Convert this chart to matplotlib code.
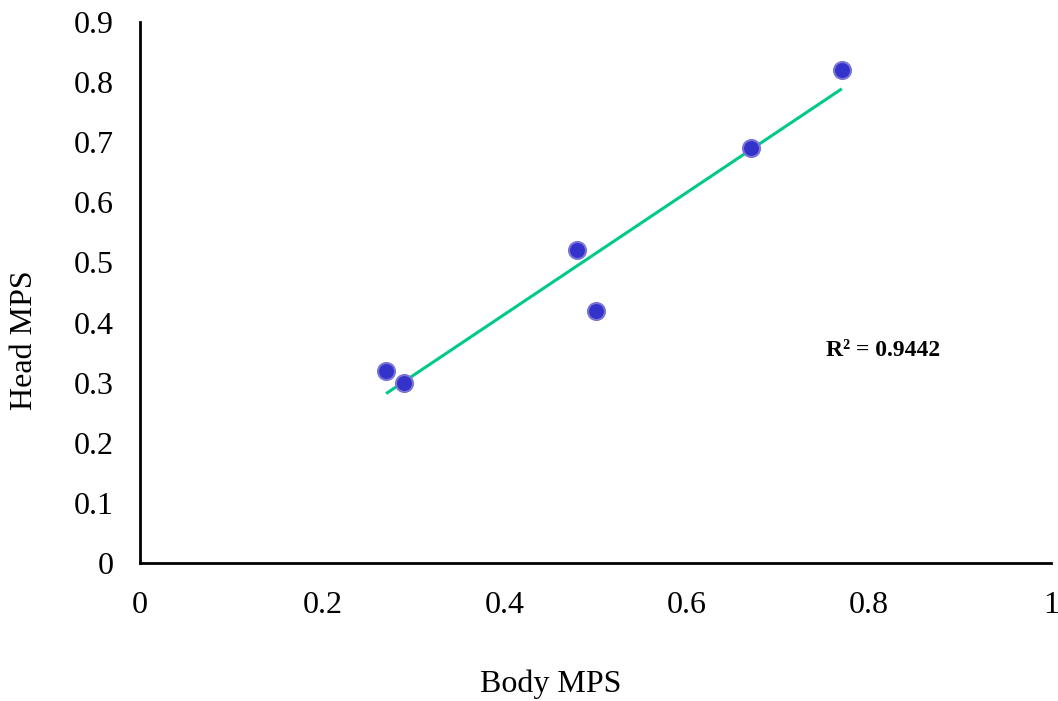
import numpy as np
import matplotlib
matplotlib.use("Agg")
import matplotlib.pyplot as plt

plt.rcParams['font.family'] = ['Liberation Serif', 'DejaVu Serif']

# body vs head MPS per sample
body_mps = [0.27, 0.29, 0.48, 0.50, 0.67, 0.77]
head_mps = [0.32, 0.30, 0.52, 0.42, 0.69, 0.82]
r_squared = 0.9442

x_ticks = [0, 0.2, 0.4, 0.6, 0.8, 1]
x_tick_labels = ['0', '0.2', '0.4', '0.6', '0.8', '1']
y_ticks = [0, 0.1, 0.2, 0.3, 0.4, 0.5, 0.6, 0.7, 0.8, 0.9]
y_tick_labels = ['0', '0.1', '0.2', '0.3', '0.4', '0.5', '0.6', '0.7', '0.8', '0.9']

fig = plt.figure(figsize=(10.58, 7.01), dpi=100)
ax = fig.add_axes([0.1323, 0.1969, 0.8615, 0.7717])

# linear trendline over the data range
slope, intercept = np.polyfit(body_mps, head_mps, 1)
xs = np.array([min(body_mps), max(body_mps)])
ax.plot(xs, slope * xs + intercept, color='#00c98a', lw=2.2, zorder=2,
        solid_capstyle='butt')

ax.scatter(body_mps, head_mps, s=150, color='#3333cc', edgecolors='#7a74d6',
           linewidths=1.5, zorder=3)

ax.text(0.815, 0.354, 'R² = {:.4f}'.format(r_squared), fontsize=17,
        fontweight='bold', ha='center', va='center')

ax.set_xlim(0, 1)
ax.set_ylim(0, 0.9)
ax.set_xticks(x_ticks)
ax.set_xticklabels(x_tick_labels)
ax.set_yticks(y_ticks)
ax.set_yticklabels(y_tick_labels)
ax.tick_params(axis='both', length=0, labelsize=23)
ax.tick_params(axis='x', pad=20)
ax.tick_params(axis='y', pad=19)

for side in ['top', 'right']:
    ax.spines[side].set_visible(False)
for side in ['left', 'bottom']:
    ax.spines[side].set_linewidth(2)
    ax.spines[side].set_color('black')

ax.set_xlabel('Body MPS', fontsize=23)
ax.set_ylabel('Head MPS', fontsize=23)
ax.xaxis.set_label_coords(0.451, -0.224)
ax.xaxis.label.set_va('center')
ax.yaxis.set_label_coords(-0.127, 0.412)
ax.yaxis.label.set_va('center')

fig.savefig('out.png', dpi=100)
